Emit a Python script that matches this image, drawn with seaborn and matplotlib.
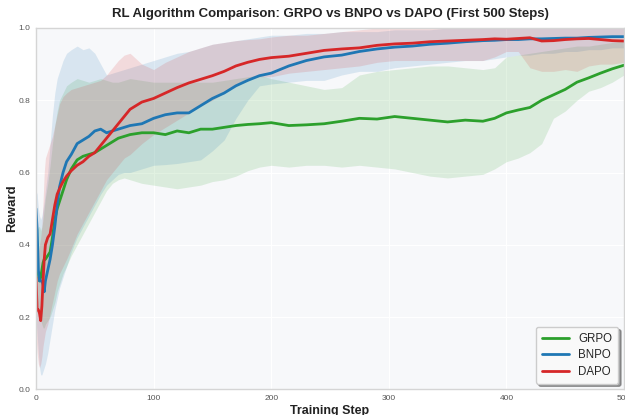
import numpy as np
import pandas as pd
import matplotlib
matplotlib.use("Agg")
import matplotlib.pyplot as plt
import seaborn as sns
from matplotlib.lines import Line2D

steps = [0, 1, 2, 3, 4, 5, 6, 7, 8, 10, 12, 14, 16, 18, 20, 23, 26, 30, 35, 40, 45, 50, 55, 60, 65, 70, 75, 80,
         90, 100, 110, 120, 130, 140, 150, 160, 170, 180, 190, 200, 215, 230, 245, 260, 275, 290, 305, 320, 335,
         350, 365, 380, 390, 400, 410, 420, 430, 440, 450, 460, 470, 480, 490, 500]

grpo_mean = [0.35, 0.33, 0.32, 0.30, 0.31, 0.33, 0.35, 0.36, 0.36, 0.37, 0.38, 0.42, 0.47, 0.50, 0.52, 0.55, 0.58, 0.61,
             0.635, 0.645, 0.65, 0.655, 0.665, 0.675, 0.685, 0.695, 0.70, 0.705, 0.71, 0.71, 0.705, 0.715, 0.71, 0.72,
             0.72, 0.725, 0.73, 0.733, 0.735, 0.738, 0.73, 0.732, 0.735, 0.742, 0.75, 0.748, 0.755, 0.75, 0.745, 0.74,
             0.745, 0.742, 0.75, 0.765, 0.773, 0.78, 0.80, 0.815, 0.83, 0.85, 0.862, 0.875, 0.887, 0.897]
grpo_low = [0.28, 0.25, 0.22, 0.20, 0.19, 0.18, 0.17, 0.17, 0.18, 0.19, 0.20, 0.22, 0.24, 0.27, 0.29, 0.32, 0.34, 0.37,
            0.40, 0.43, 0.46, 0.49, 0.52, 0.55, 0.57, 0.58, 0.585, 0.58, 0.57, 0.565, 0.56, 0.555, 0.56, 0.565, 0.575,
            0.58, 0.59, 0.605, 0.615, 0.62, 0.615, 0.62, 0.62, 0.615, 0.62, 0.615, 0.61, 0.60, 0.59, 0.585, 0.59,
            0.595, 0.61, 0.63, 0.64, 0.655, 0.68, 0.75, 0.77, 0.80, 0.825, 0.835, 0.85, 0.87]
grpo_high = [0.42, 0.44, 0.45, 0.45, 0.44, 0.45, 0.47, 0.50, 0.53, 0.57, 0.62, 0.68, 0.73, 0.77, 0.80, 0.82, 0.84, 0.85,
             0.86, 0.855, 0.85, 0.855, 0.86, 0.855, 0.85, 0.85, 0.855, 0.86, 0.855, 0.85, 0.85, 0.85, 0.85, 0.85, 0.85,
             0.855, 0.86, 0.865, 0.87, 0.86, 0.85, 0.84, 0.83, 0.835, 0.87, 0.88, 0.885, 0.89, 0.895, 0.895, 0.89,
             0.885, 0.89, 0.92, 0.925, 0.93, 0.935, 0.94, 0.945, 0.95, 0.95, 0.955, 0.96, 0.965]

bnpo_mean = [0.50, 0.44, 0.33, 0.30, 0.30, 0.30, 0.29, 0.27, 0.30, 0.33, 0.36, 0.40, 0.45, 0.51, 0.56, 0.60, 0.63, 0.65,
             0.68, 0.69, 0.70, 0.715, 0.72, 0.71, 0.715, 0.72, 0.725, 0.73, 0.735, 0.75, 0.76, 0.765, 0.765, 0.785,
             0.805, 0.82, 0.84, 0.855, 0.868, 0.875, 0.895, 0.91, 0.92, 0.925, 0.935, 0.942, 0.947, 0.95, 0.955, 0.958,
             0.962, 0.965, 0.966, 0.968, 0.968, 0.97, 0.97, 0.971, 0.972, 0.972, 0.974, 0.975, 0.976, 0.976]
bnpo_low = [0.20, 0.15, 0.10, 0.06, 0.04, 0.04, 0.05, 0.06, 0.07, 0.10, 0.14, 0.18, 0.22, 0.25, 0.28, 0.31, 0.34, 0.38,
            0.42, 0.45, 0.48, 0.51, 0.54, 0.565, 0.58, 0.595, 0.60, 0.60, 0.61, 0.62, 0.622, 0.625, 0.63, 0.635, 0.66,
            0.69, 0.75, 0.80, 0.84, 0.845, 0.85, 0.855, 0.855, 0.87, 0.88, 0.88, 0.89, 0.895, 0.90, 0.905, 0.91, 0.91,
            0.915, 0.92, 0.925, 0.925, 0.93, 0.93, 0.935, 0.935, 0.94, 0.94, 0.945, 0.945]
bnpo_high = [0.55, 0.54, 0.50, 0.48, 0.47, 0.48, 0.50, 0.52, 0.55, 0.60, 0.68, 0.76, 0.82, 0.86, 0.88, 0.91, 0.93, 0.94,
             0.95, 0.94, 0.945, 0.93, 0.90, 0.87, 0.875, 0.88, 0.885, 0.89, 0.90, 0.91, 0.92, 0.93, 0.935, 0.945, 0.955,
             0.96, 0.965, 0.97, 0.975, 0.98, 0.98, 0.985, 0.985, 0.99, 0.99, 0.99, 0.995, 0.995, 0.995, 1.0, 1.0, 1.0,
             1.0, 1.0, 1.0, 1.0, 1.0, 1.0, 1.0, 1.0, 1.0, 1.0, 1.0, 1.0]

dapo_mean = [0.31, 0.22, 0.22, 0.21, 0.19, 0.23, 0.30, 0.36, 0.40, 0.42, 0.43, 0.47, 0.51, 0.54, 0.555, 0.575, 0.59,
             0.605, 0.62, 0.63, 0.645, 0.655, 0.675, 0.695, 0.715, 0.735, 0.755, 0.775, 0.795, 0.805, 0.82, 0.835,
             0.848, 0.858, 0.868, 0.88, 0.895, 0.905, 0.913, 0.918, 0.922, 0.93, 0.938, 0.942, 0.945, 0.952, 0.956,
             0.958, 0.962, 0.964, 0.966, 0.968, 0.97, 0.969, 0.971, 0.973, 0.964, 0.965, 0.968, 0.97, 0.971, 0.968,
             0.965, 0.964]
dapo_low = [0.15, 0.10, 0.07, 0.06, 0.07, 0.09, 0.12, 0.14, 0.16, 0.18, 0.21, 0.24, 0.27, 0.30, 0.32, 0.34, 0.36, 0.39,
            0.43, 0.46, 0.49, 0.52, 0.55, 0.58, 0.60, 0.62, 0.64, 0.65, 0.68, 0.705, 0.725, 0.745, 0.765, 0.785, 0.80,
            0.82, 0.845, 0.86, 0.865, 0.865, 0.875, 0.88, 0.885, 0.89, 0.895, 0.905, 0.91, 0.91, 0.91, 0.91, 0.91, 0.91,
            0.92, 0.935, 0.935, 0.89, 0.88, 0.88, 0.885, 0.88, 0.895, 0.90, 0.90, 0.905]
dapo_high = [0.35, 0.36, 0.38, 0.40, 0.42, 0.45, 0.52, 0.60, 0.64, 0.66, 0.68, 0.70, 0.73, 0.76, 0.79, 0.81, 0.82, 0.83,
             0.835, 0.84, 0.845, 0.85, 0.855, 0.87, 0.89, 0.91, 0.925, 0.93, 0.90, 0.885, 0.905, 0.92, 0.935, 0.945,
             0.955, 0.96, 0.965, 0.968, 0.97, 0.975, 0.98, 0.98, 0.985, 0.99, 0.995, 1.0, 1.0, 1.0, 1.0, 1.0, 1.0, 1.0,
             1.0, 1.0, 1.0, 1.0, 1.0, 1.0, 1.0, 1.0, 1.0, 1.0, 1.0, 1.0]

algorithms = ["GRPO", "BNPO", "DAPO"]
colors = {"GRPO": "#2ca02c", "BNPO": "#1f77b4", "DAPO": "#d62728"}
series = {
    "GRPO": (grpo_mean, grpo_low, grpo_high),
    "BNPO": (bnpo_mean, bnpo_low, bnpo_high),
    "DAPO": (dapo_mean, dapo_low, dapo_high),
}

rows = []
for alg in algorithms:
    for s, m in zip(steps, series[alg][0]):
        rows.append({"Training Step": s, "Reward": m, "Algorithm": alg})
df = pd.DataFrame(rows)

sns.set_theme(style="whitegrid")
plt.rcParams["font.family"] = ["Liberation Sans", "DejaVu Sans"]

fig = plt.figure(figsize=(6.25, 4.15), dpi=100)
ax = fig.add_axes([36 / 625, (415 - 389.3) / 415, 588 / 625, 361.3 / 415])
ax.set_facecolor("#f7f8fa")

for alg in algorithms:
    m, lo, hi = series[alg]
    ax.fill_between(steps, lo, hi, color=colors[alg], alpha=0.14, linewidth=0)

sns.lineplot(data=df, x="Training Step", y="Reward", hue="Algorithm", palette=colors,
             hue_order=algorithms, linewidth=2.0, ax=ax, legend=False)

ax.set_xlim(0, 500)
ax.set_ylim(0, 1.0)
ax.set_xticks([0, 100, 200, 300, 400, 500])
ax.set_yticks([0.0, 0.2, 0.4, 0.6, 0.8, 1.0])
ax.tick_params(axis="both", labelsize=6, colors="#555555", length=0, pad=4)
ax.grid(True, color="#ffffff", linewidth=0.8)
for sp in ax.spines.values():
    sp.set_color("#d5d5d5")
    sp.set_linewidth(1.0)

ax.set_xlabel("Training Step", fontsize=9, fontweight="bold", color="#222222", labelpad=2)
ax.set_ylabel("Reward", fontsize=9.5, fontweight="bold", color="#222222")
ax.yaxis.set_label_coords(-0.031, 0.5)
ax.set_title("RL Algorithm Comparison: GRPO vs BNPO vs DAPO (First 500 Steps)",
             fontsize=9.5, fontweight="bold", color="#222222", pad=8)

handles = [Line2D([0], [0], color=colors[a], lw=2) for a in algorithms]
leg = ax.legend(handles, algorithms, loc="lower right", fontsize=8.3, frameon=True, fancybox=True,
                shadow=True, framealpha=1.0, edgecolor="#cccccc", handlelength=2.4,
                borderpad=0.5, labelspacing=0.4)
leg.get_frame().set_facecolor("#f9f9f9")

fig.savefig("out.png", dpi=100)
